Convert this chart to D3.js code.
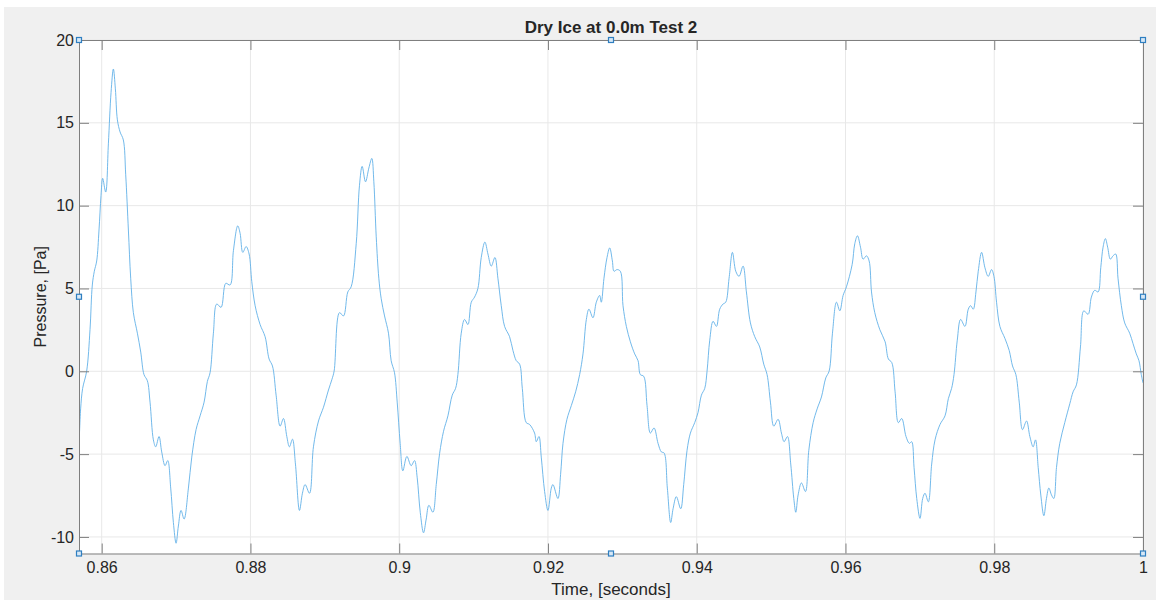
<!DOCTYPE html>
<html>
<head>
<meta charset="utf-8">
<script src="https://cdn.jsdelivr.net/npm/d3@7"></script>
<style>
  body { margin: 0; background: #ffffff; }
  text { font-family: "Liberation Sans", Arial, Helvetica, sans-serif; fill: #262626; }
</style>
</head>
<body>
<div id="chart"></div>
<script>
// data (time in seconds, pressure in Pa)
var timeValues = [
  0.85695,0.85717,0.85744,0.85798,0.85843,0.85874,0.85901,0.85933,0.85964,0.85991,
  0.86013,0.86054,0.86090,0.86126,0.86157,0.86184,0.86211,0.86247,0.86291,0.86323,
  0.86359,0.86390,0.86426,0.86480,0.86525,0.86569,0.86614,0.86650,0.86695,0.86726,
  0.86771,0.86807,0.86852,0.86888,0.86928,0.86964,0.87000,0.87031,0.87067,0.87108,
  0.87166,0.87211,0.87269,0.87323,0.87377,0.87421,0.87457,0.87502,0.87547,0.87605,
  0.87668,0.87726,0.87771,0.87829,0.87861,0.87897,0.87942,0.87982,0.88018,0.88063,
  0.88130,0.88197,0.88251,0.88296,0.88345,0.88399,0.88444,0.88489,0.88524,0.88565,
  0.88605,0.88659,0.88699,0.88735,0.88794,0.88847,0.88915,0.88982,0.89049,0.89094,
  0.89125,
  0.89197,0.89251,0.89309,0.89354,0.89422,0.89466,0.89502,0.89547,0.89592,0.89632,
  0.89659,0.89691,0.89726,0.89758,0.89803,0.89856,0.89892,0.89937,0.89973,0.90013,
  0.90049,0.90103,0.90161,0.90206,0.90242,0.90283,0.90327,0.90363,0.90399,0.90453,
  0.90498,0.90543,0.90596,0.90655,0.90713,0.90758,0.90789,0.90834,0.90879,0.90924,
  0.90969,0.91013,0.91058,0.91103,0.91152,0.91193,0.91238,0.91287,0.91327,0.91372,
  0.91417,0.91484,0.91529,0.91574,0.91619,0.91655,0.91708,0.91753,0.91820,0.91843,
  0.91879,0.91910,0.91955,0.92000,0.92045,0.92067,0.92134,0.92170,0.92202,0.92255,
  0.92314,0.92372,0.92426,0.92471,0.92516,0.92551,0.92605,0.92650,0.92695,0.92717,
  0.92753,0.92794,
  0.92830,0.92866,0.92888,0.92928,0.92973,0.93009,0.93054,0.93108,0.93166,0.93211,
  0.93242,0.93287,0.93332,0.93377,0.93426,0.93480,0.93525,0.93561,0.93605,0.93650,
  0.93682,0.93726,0.93785,0.93825,0.93870,0.93915,0.93973,0.94018,0.94063,0.94108,
  0.94139,0.94175,0.94220,0.94265,0.94309,0.94354,0.94390,0.94435,0.94480,0.94525,
  0.94569,0.94623,0.94668,0.94722,0.94780,0.94847,0.94901,0.94946,0.94991,0.95036,
  0.95094,0.95139,0.95175,0.95220,0.95264,0.95305,0.95332,0.95363,0.95408,0.95462,
  0.95507,0.95565,0.95619,0.95677,0.95735,0.95780,0.95825,0.95879,0.95924,0.95968,
  0.96013,0.96090,0.96125,0.96161,0.96202,0.96237,0.96282,0.96318,0.96350,0.96394,
  0.96462,
  0.96533,0.96577,0.96622,0.96667,0.96711,0.96756,0.96814,0.96859,0.96890,0.96922,
  0.96958,0.97002,0.97038,0.97069,0.97114,0.97159,0.97204,0.97271,0.97338,0.97383,
  0.97427,0.97459,0.97503,0.97548,0.97606,0.97651,0.97682,0.97718,0.97754,0.97785,
  0.97830,0.97875,0.97919,0.97964,0.97996,0.98031,0.98076,0.98143,0.98201,0.98246,
  0.98291,0.98336,0.98380,0.98434,0.98479,0.98523,0.98555,0.98591,0.98626,0.98667,
  0.98702,0.98734,0.98770,0.98801,0.98837,0.98881,0.98948,0.99016,0.99060,0.99105,
  0.99159,0.99204,0.99262,0.99306,0.99351,0.99396,0.99432,0.99463,0.99494,0.99525,
  0.99561,0.99597,0.99633,0.99664,0.99709,0.99754,0.99821,0.99866,0.99910,0.99946,
  0.99977,1.00000
];
var pressureValues = [
  -4.56,-2.27,-1.03,0.01,2.51,5.21,6.04,6.66,8.53,10.61,
  11.65,10.82,13.73,16.84,18.25,17.05,15.18,14.45,13.97,11.86,
  8.53,5.62,3.54,2.30,1.16,-0.20,-0.57,-1.86,-4.14,-4.56,
  -3.94,-4.87,-5.70,-5.39,-7.05,-9.13,-10.38,-9.34,-8.40,-8.92,
  -7.05,-5.18,-3.52,-2.69,-1.86,-0.61,-0.09,2.30,4.06,3.86,
  5.31,5.21,7.28,8.78,8.33,7.18,7.53,7.08,5.41,3.96,
  2.82,2.09,0.74,0.32,-1.44,-3.31,-2.85,-3.94,-4.56,-4.10,
  -5.60,-8.40,-7.36,-6.84,-7.36,-4.56,-3.00,-2.17,-1.13,-0.51,
  0.01,
  3.54,3.34,4.79,5.10,7.70,11.23,12.37,11.44,12.27,12.85,
  11.44,8.12,5.62,4.38,3.34,2.30,0.64,-0.09,-1.86,-4.35,
  -6.01,-5.14,-5.70,-5.39,-6.43,-8.51,-9.75,-8.92,-8.09,-8.51,
  -6.84,-4.97,-3.62,-2.69,-1.44,-1.03,-0.20,2.30,3.13,2.82,
  4.17,4.48,5.00,6.87,7.80,7.08,6.35,6.87,5.62,3.96,
  2.71,2.09,1.26,0.64,0.43,-1.03,-3.10,-3.21,-3.73,-4.25,
  -3.94,-5.18,-7.26,-8.40,-7.05,-6.84,-7.68,-6.22,-4.35,-2.90,
  -2.07,-1.24,-0.20,1.05,3.13,3.75,3.23,4.17,4.58,4.17,
  5.62,6.87,
  7.45,6.66,6.04,6.14,6.04,3.96,2.71,1.78,1.05,0.64,
  -0.20,-0.30,-2.07,-3.73,-3.42,-4.35,-4.87,-4.93,-7.05,-9.13,
  -8.30,-7.57,-8.30,-6.84,-4.77,-3.73,-3.10,-2.48,-1.44,-1.03,
  0.01,1.88,3.02,2.71,3.75,4.06,4.17,5.62,7.18,6.04,
  5.73,6.35,4.79,2.92,2.09,1.47,0.43,-0.20,-1.86,-3.31,
  -2.90,-3.73,-4.25,-3.94,-5.60,-7.68,-8.51,-7.47,-6.74,-7.26,
  -4.77,-3.10,-2.27,-1.55,-0.40,0.01,2.30,4.17,3.65,4.58,
  5.10,6.45,7.70,8.18,7.49,6.77,6.97,6.66,4.79,3.54,
  2.51,
  1.78,0.74,0.53,-1.24,-3.10,-2.85,-3.94,-4.35,-4.25,-5.81,
  -7.68,-8.88,-7.68,-7.36,-7.88,-5.60,-4.14,-3.21,-2.69,-1.65,
  -1.03,-0.20,1.88,3.13,2.71,3.75,3.96,3.75,4.79,6.04,
  7.18,6.25,5.73,6.14,5.73,4.17,2.71,1.99,1.26,0.32,
  -0.20,-1.86,-3.52,-3.00,-3.94,-4.56,-4.14,-5.81,-7.47,-8.72,
  -7.68,-7.05,-7.47,-7.68,-5.81,-4.35,-3.10,-1.96,-1.24,-0.82,
  1.47,3.65,3.44,4.48,4.89,4.79,6.25,7.49,8.01,7.49,
  6.77,6.97,7.08,5.62,3.96,2.92,2.30,1.67,1.05,0.64,
  -0.20,-0.70
];
var xTicks = [0.86, 0.88, 0.9, 0.92, 0.94, 0.96, 0.98, 1];
var yTicks = [-10, -5, 0, 5, 10, 15, 20];
var xDomain = [0.85695, 1.0];
var yDomain = [-11, 20];

// set svg dimension
var svgWidth = 1156;
var svgHeight = 600;

// set margins (plot box)
var margin = {top: 40, right: 13, bottom: 46.5, left: 79};
var chartWidth = svgWidth - margin.left - margin.right;
var chartHeight = svgHeight - margin.top - margin.bottom;

var svg = d3.select("#chart")
  .append("svg")
  .attr("width", svgWidth)
  .attr("height", svgHeight);

// figure background
svg.append("rect")
  .attr("x", 4).attr("y", 7)
  .attr("width", svgWidth - 4).attr("height", svgHeight - 7)
  .attr("fill", "#f0f0f0");

var chartGroup = svg.append("g")
  .attr("transform", `translate(${margin.left},${margin.top})`);

chartGroup.append("rect")
  .attr("width", chartWidth).attr("height", chartHeight)
  .attr("fill", "#ffffff");

var xScale = d3.scaleLinear().domain(xDomain).range([0, chartWidth]);
var yScale = d3.scaleLinear().domain(yDomain).range([chartHeight, 0]);

// grid lines
chartGroup.append("g").selectAll("line")
  .data(xTicks).enter().append("line")
  .attr("x1", d => xScale(d)).attr("x2", d => xScale(d))
  .attr("y1", 0).attr("y2", chartHeight)
  .attr("stroke", "#e8e8e8").attr("stroke-width", 1);
chartGroup.append("g").selectAll("line")
  .data(yTicks).enter().append("line")
  .attr("x1", 0).attr("x2", chartWidth)
  .attr("y1", d => yScale(d)).attr("y2", d => yScale(d))
  .attr("stroke", "#e8e8e8").attr("stroke-width", 1);

// the trace
var points = timeValues.map((t, i) => ({t: t, p: pressureValues[i]}));
chartGroup.append("clipPath").attr("id", "clip")
  .append("rect").attr("width", chartWidth).attr("height", chartHeight);
var line = d3.line()
  .x(d => xScale(d.t))
  .y(d => yScale(d.p))
  .curve(d3.curveCatmullRom.alpha(0.5));
chartGroup.append("path")
  .datum(points)
  .attr("clip-path", "url(#clip)")
  .attr("fill", "none")
  .attr("stroke", "#62b1e8")
  .attr("stroke-width", 0.9)
  .attr("d", line);

// axes, ticks point inward like matlab
var axisColor = "#7f7f7f";
function styleAxis(g) {
  g.select(".domain").attr("stroke", axisColor);
  g.selectAll(".tick line").attr("stroke", axisColor);
  g.selectAll(".tick text")
    .attr("font-size", "16px")
    .attr("font-family", "'Liberation Sans', Arial, sans-serif")
    .attr("fill", "#262626");
}

var bottomAxis = d3.axisBottom(xScale).tickValues(xTicks)
  .tickSize(-10).tickSizeOuter(0).tickPadding(8)
  .tickFormat(d => String(+d.toFixed(2)));
chartGroup.append("g")
  .attr("transform", `translate(0,${chartHeight})`)
  .call(bottomAxis).call(styleAxis);

var topAxis = d3.axisTop(xScale).tickValues(xTicks)
  .tickSize(-10).tickSizeOuter(0).tickFormat("");
chartGroup.append("g").call(topAxis).call(styleAxis);

var leftAxis = d3.axisLeft(yScale).tickValues(yTicks)
  .tickSize(-10).tickSizeOuter(0).tickPadding(5)
  .tickFormat(d => String(d));
chartGroup.append("g").call(leftAxis).call(styleAxis);

var rightAxis = d3.axisRight(yScale).tickValues(yTicks)
  .tickSize(-10).tickSizeOuter(0).tickFormat("");
chartGroup.append("g")
  .attr("transform", `translate(${chartWidth},0)`)
  .call(rightAxis).call(styleAxis);

// selection handles on the axes box
var handles = [[0, 0], [0.5, 0], [1, 0], [0, 0.5], [1, 0.5], [0, 1], [0.5, 1], [1, 1]];
chartGroup.append("g").selectAll("rect")
  .data(handles).enter().append("rect")
  .attr("x", d => d[0] * chartWidth - 2.5)
  .attr("y", d => d[1] * chartHeight - 2.5)
  .attr("width", 5).attr("height", 5)
  .attr("fill", "#d8e8f6")
  .attr("stroke", "#2f7fc1")
  .attr("stroke-width", 1.2);

// title and labels
svg.append("text")
  .attr("x", margin.left + chartWidth / 2)
  .attr("y", 33)
  .attr("text-anchor", "middle")
  .attr("font-size", "17px")
  .attr("font-weight", "bold")
  .attr("fill", "#000000")
  .text("Dry Ice at 0.0m Test 2");

svg.append("text")
  .attr("x", margin.left + chartWidth / 2)
  .attr("y", 595)
  .attr("text-anchor", "middle")
  .attr("font-size", "17px")
  .text("Time, [seconds]");

svg.append("text")
  .attr("transform", `translate(46,${margin.top + chartHeight / 2}) rotate(-90)`)
  .attr("text-anchor", "middle")
  .attr("font-size", "16px")
  .text("Pressure, [Pa]");
</script>
</body>
</html>
